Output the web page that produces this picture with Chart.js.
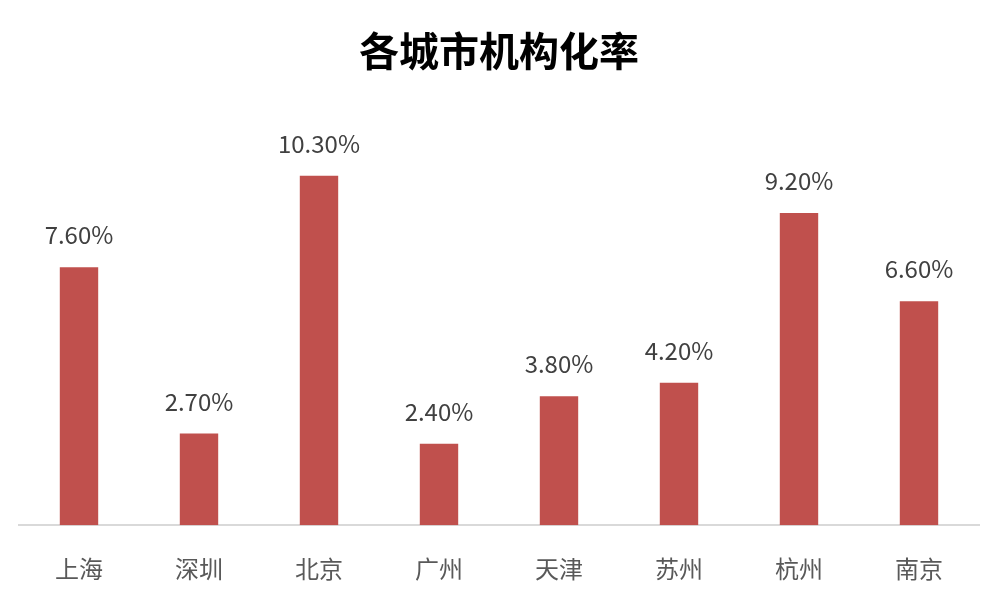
<!DOCTYPE html>
<html>
<head>
<meta charset="utf-8">
<script src="https://cdn.jsdelivr.net/npm/chart.js@4/dist/chart.umd.min.js"></script>
<style>
  html, body { margin: 0; padding: 0; background: #fff; }
  #wrap { width: 1000px; height: 613px; }
</style>
</head>
<body>
<div id="wrap"><canvas id="myChart"></canvas></div>
<script>
const cities = ['上海', '深圳', '北京', '广州', '天津', '苏州', '杭州', '南京']
const rates = [7.6, 2.7, 10.3, 2.4, 3.8, 4.2, 9.2, 6.6]

const fontFamily = '"Noto Sans CJK SC", "Noto Sans", sans-serif'

// labels above each bar, e.g. "7.60%"
const barLabels = {
  id: 'barLabels',
  afterDatasetsDraw(chart) {
    const c = chart.ctx
    const meta = chart.getDatasetMeta(0)
    c.save()
    c.font = '24px ' + fontFamily
    c.fillStyle = '#404040'
    c.textAlign = 'center'
    c.textBaseline = 'middle'
    meta.data.forEach((bar, i) => {
      c.fillText(rates[i].toFixed(2) + '%', bar.x, bar.y - 32)
    })
    c.restore()
  }
}

const ctx = document.getElementById('myChart').getContext('2d')
const myChart = new Chart(ctx, {
  type: 'bar',
  data: {
    labels: cities,
    datasets: [{
      data: rates,
      backgroundColor: '#C0504D',
      barPercentage: 0.32,
      categoryPercentage: 1
    }]
  },
  options: {
    responsive: true,
    maintainAspectRatio: false,
    animation: false,
    layout: { padding: { left: 19, right: 21, top: 0, bottom: 9 } },
    scales: {
      x: {
        grid: { display: false },
        border: { display: true, color: '#d9d9d9', width: 2 },
        ticks: {
          color: '#595959',
          padding: 21,
          font: { family: fontFamily, size: 24 }
        }
      },
      y: {
        display: false,
        min: 0,
        max: 12
      }
    },
    plugins: {
      legend: { display: false },
      tooltip: { enabled: false },
      title: {
        display: true,
        text: '各城市机构化率',
        color: '#000',
        padding: { top: 27, bottom: 43 },
        font: { family: fontFamily, size: 40, weight: 'bold', lineHeight: 1.2 }
      }
    }
  },
  plugins: [barLabels]
})
</script>
</body>
</html>
